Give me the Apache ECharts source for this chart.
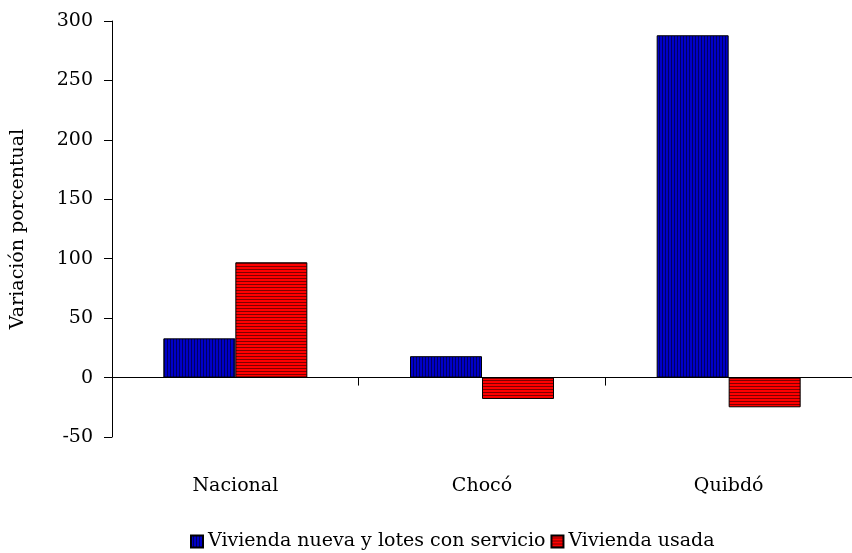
<!DOCTYPE html>
<html>
<head>
<meta charset="utf-8">
<script src="https://cdn.jsdelivr.net/npm/echarts@6/dist/echarts.min.js"></script>
<style>html,body{margin:0;padding:0;background:#fff;}#c{width:852px;height:553px;}</style>
</head>
<body>
<div id="c"></div>
<script>
var categories = ['Nacional', 'Chocó', 'Quibdó'];
var seriesNames = ['Vivienda nueva y lotes con servicio', 'Vivienda usada'];
var nuevaValues = [33, 18, 288];
var usadaValues = [97, -18, -25];
var yTicks = [-50, 0, 50, 100, 150, 200, 250, 300];

function makePattern(vertical, base, dark) {
  var c = document.createElement('canvas');
  c.width = 3; c.height = 3;
  var ctx = c.getContext('2d');
  ctx.fillStyle = base; ctx.fillRect(0, 0, 3, 3);
  ctx.fillStyle = dark;
  if (vertical) ctx.fillRect(2, 0, 1, 3); else ctx.fillRect(0, 2, 3, 1);
  return { image: c, repeat: 'repeat' };
}
var bluePat = makePattern(true, '#0000C8', '#000060');
var redPat = makePattern(false, '#FF0000', '#800000');

var font = 'DejaVu Serif';
var fs = 19;
var chart = echarts.init(document.getElementById('c'));
chart.setOption({
  animation: false,
  backgroundColor: '#fff',
  grid: { left: 112, top: 21, width: 747, bottom: 116, containLabel: false },
  legend: {
    bottom: -3, left: 185, icon: 'rect',
    itemWidth: 12, itemHeight: 12, itemGap: 5,
    textStyle: { fontFamily: font, fontSize: fs, color: '#000' },
    data: seriesNames
  },
  xAxis: [{
    type: 'category', data: categories,
    axisLine: { onZero: true, lineStyle: { color: '#000', width: 1 } },
    axisTick: { show: true, length: 8, lineStyle: { color: '#000' } },
    axisLabel: { show: false },
    splitLine: { show: false }
  }, {
    type: 'category', data: categories, position: 'bottom',
    axisLine: { show: false, onZero: false }, axisTick: { show: false },
    axisLabel: { show: true, margin: 40, fontFamily: font, fontSize: fs, color: '#000' }
  }],
  yAxis: {
    type: 'value', min: yTicks[0], max: yTicks[yTicks.length - 1], interval: 50,
    name: 'Variación porcentual', nameLocation: 'middle', nameGap: 84,
    nameTextStyle: { fontFamily: font, fontSize: fs, color: '#000' },
    axisLine: { show: true, lineStyle: { color: '#000', width: 1 } },
    axisTick: { show: true, length: 8, lineStyle: { color: '#000' } },
    axisLabel: { margin: 19, fontFamily: font, fontSize: fs, color: '#000' },
    splitLine: { show: false }
  },
  series: [{
    name: seriesNames[0], type: 'bar', data: nuevaValues, xAxisIndex: 0,
    barWidth: 72, barGap: '0%',
    itemStyle: { color: bluePat, borderColor: '#000', borderWidth: 1 }
  }, {
    name: seriesNames[1], type: 'bar', data: usadaValues, xAxisIndex: 0,
    barWidth: 72, barGap: '0%',
    itemStyle: { color: redPat, borderColor: '#000', borderWidth: 1 }
  }]
});
</script>
</body>
</html>
